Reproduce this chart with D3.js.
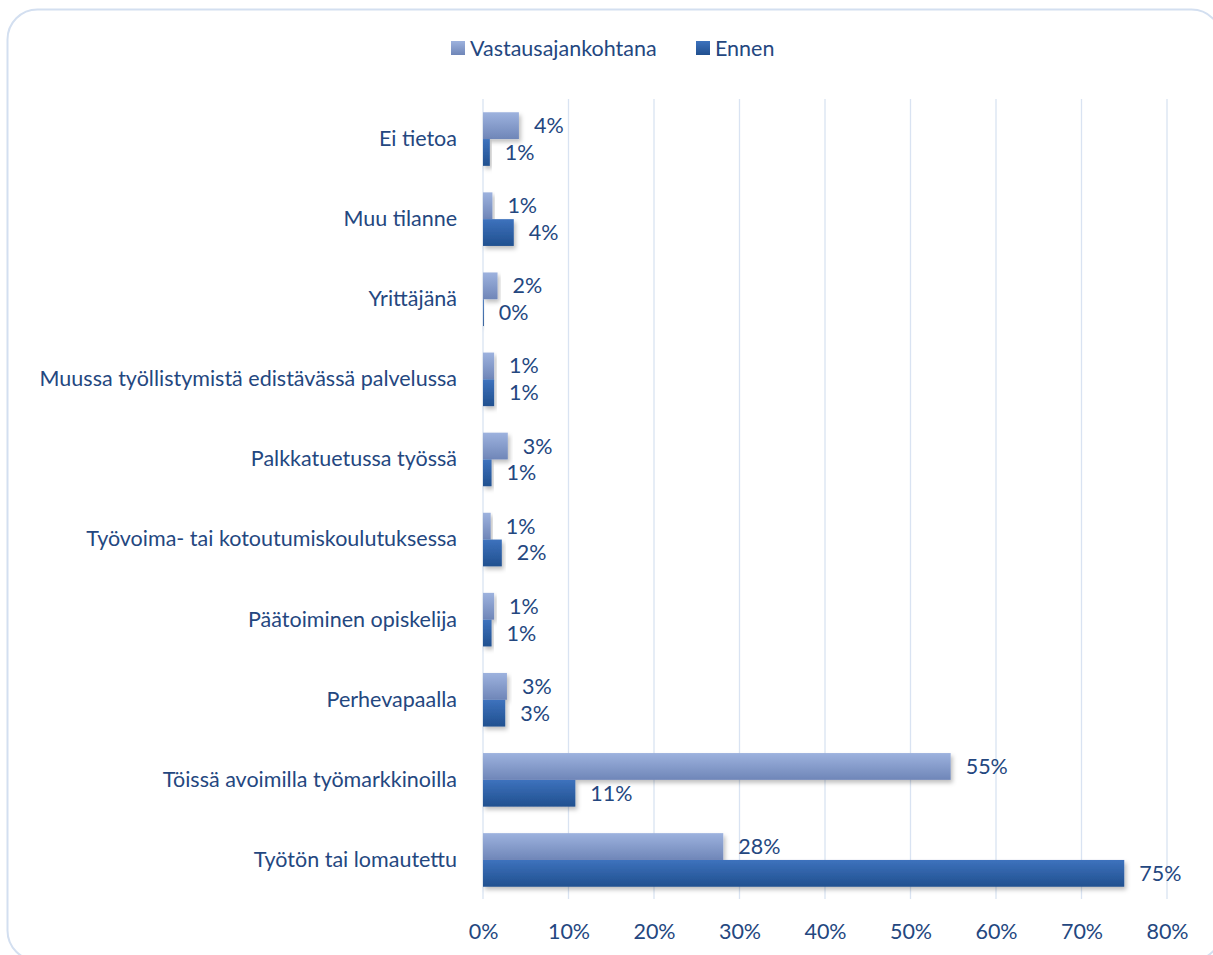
<!DOCTYPE html>
<html><head><meta charset="utf-8">
<script src="https://cdn.jsdelivr.net/npm/d3@7"></script>
<style>body{margin:0;background:#fff;} svg{display:block;}</style>
</head><body>
<script>
const categories = ["Ei tietoa","Muu tilanne","Yrittäjänä","Muussa työllistymistä edistävässä palvelussa","Palkkatuetussa työssä","Työvoima- tai kotoutumiskoulutuksessa","Päätoiminen opiskelija","Perhevapaalla","Töissä avoimilla työmarkkinoilla","Työtön tai lomautettu"];
const seriesNames = ["Vastausajankohtana","Ennen"];
const vastaus = [4.2,1.1,1.7,1.3,2.9,0.9,1.3,2.8,54.7,28.1];
const ennen = [0.8,3.6,0.1,1.3,1.0,2.2,1.0,2.6,10.8,75.0];
const vastausLabels = ["4%","1%","2%","1%","3%","1%","1%","3%","55%","28%"];
const ennenLabels = ["1%","4%","0%","1%","1%","2%","1%","3%","11%","75%"];
const tickValues = [0,10,20,30,40,50,60,70,80];

const W=1213,H=955;
const svg=d3.select("body").append("svg").attr("width",W).attr("height",H);
const defs=svg.append("defs");
const g1=defs.append("linearGradient").attr("id","gl").attr("x1",0).attr("y1",0).attr("x2",0).attr("y2",1);
g1.append("stop").attr("offset","0%").attr("stop-color","#9DB2DE");
g1.append("stop").attr("offset","100%").attr("stop-color","#6F86B8");
const g2=defs.append("linearGradient").attr("id","gd").attr("x1",0).attr("y1",0).attr("x2",0).attr("y2",1);
g2.append("stop").attr("offset","0%").attr("stop-color","#3D72BD");
g2.append("stop").attr("offset","100%").attr("stop-color","#21508F");
const f=defs.append("filter").attr("id","sh").attr("x","-10%").attr("y","-20%").attr("width","130%").attr("height","160%");
f.append("feDropShadow").attr("dx",2).attr("dy",3).attr("stdDeviation",2).attr("flood-color","#000").attr("flood-opacity",0.25);

svg.append("rect").attr("x",7.5).attr("y",9.5).attr("width",1214).attr("height",951).attr("rx",30)
  .attr("fill","#fff").attr("stroke","#D3DFF0").attr("stroke-width",2);

const x=d3.scaleLinear().domain([0,80]).range([483,1167]);
const y=d3.scaleBand().domain(categories).range([99,900]);
const bh=26.8;
const off0=y.bandwidth()/2-bh, off1=y.bandwidth()/2;

const textColor="#24477F";
const font="Lato, 'Open Sans', sans-serif";
const fs="21.5px";

svg.append("g").selectAll("line").data(tickValues).join("line")
  .attr("x1",d=>x(d)).attr("x2",d=>x(d)).attr("y1",99).attr("y2",899)
  .attr("stroke","#D9E3F2").attr("stroke-width",1.3);

const xAxis=d3.axisBottom(x).tickValues(tickValues).tickFormat(d=>d+"%").tickSize(0).tickPadding(0);
const ax=svg.append("g").attr("transform","translate(0,931)").call(xAxis);
ax.select(".domain").remove();
ax.selectAll("text").attr("fill",textColor).attr("font-size",fs).attr("font-family",font).attr("dy","0.35em").attr("y",0);

const yAxis=d3.axisLeft(y).tickSize(0).tickPadding(0);
const ay=svg.append("g").attr("transform","translate(457,0)").call(yAxis);
ay.select(".domain").remove();
ay.selectAll("text").attr("fill",textColor).attr("font-size",fs).attr("font-family",font);

const rows=categories.map((c,i)=>({c,v:vastaus[i],e:ennen[i],vl:vastausLabels[i],el:ennenLabels[i]}));
const bars=svg.append("g");
bars.selectAll("rect.v").data(rows).join("rect").attr("class","v")
  .attr("x",x(0)).attr("y",d=>y(d.c)+off0).attr("width",d=>x(d.v)-x(0)).attr("height",bh)
  .attr("fill","url(#gl)").attr("filter","url(#sh)");
bars.selectAll("rect.e").data(rows).join("rect").attr("class","e")
  .attr("x",x(0)).attr("y",d=>y(d.c)+off1).attr("width",d=>x(d.e)-x(0)).attr("height",bh)
  .attr("fill","url(#gd)").attr("filter","url(#sh)");

const lab=svg.append("g").attr("fill",textColor).attr("font-size",fs).attr("font-family",font);
lab.selectAll("text.v").data(rows).join("text")
  .attr("x",d=>x(d.v)+15).attr("y",d=>y(d.c)+off0+bh/2).attr("dy","0.35em").text(d=>d.vl);
lab.selectAll("text.e").data(rows).join("text")
  .attr("x",d=>x(d.e)+15).attr("y",d=>y(d.c)+off1+bh/2).attr("dy","0.35em").text(d=>d.el);

const leg=svg.append("g").attr("font-size",fs).attr("font-family",font).attr("fill",textColor);
const items=[{n:seriesNames[0],fill:"url(#gl)",x:451},{n:seriesNames[1],fill:"url(#gd)",x:696}];
items.forEach(it=>{
  leg.append("rect").attr("x",it.x).attr("y",41).attr("width",14).attr("height",14).attr("fill",it.fill);
  leg.append("text").attr("x",it.x+19).attr("y",48).attr("dy","0.35em").text(it.n);
});
</script>
</body></html>
